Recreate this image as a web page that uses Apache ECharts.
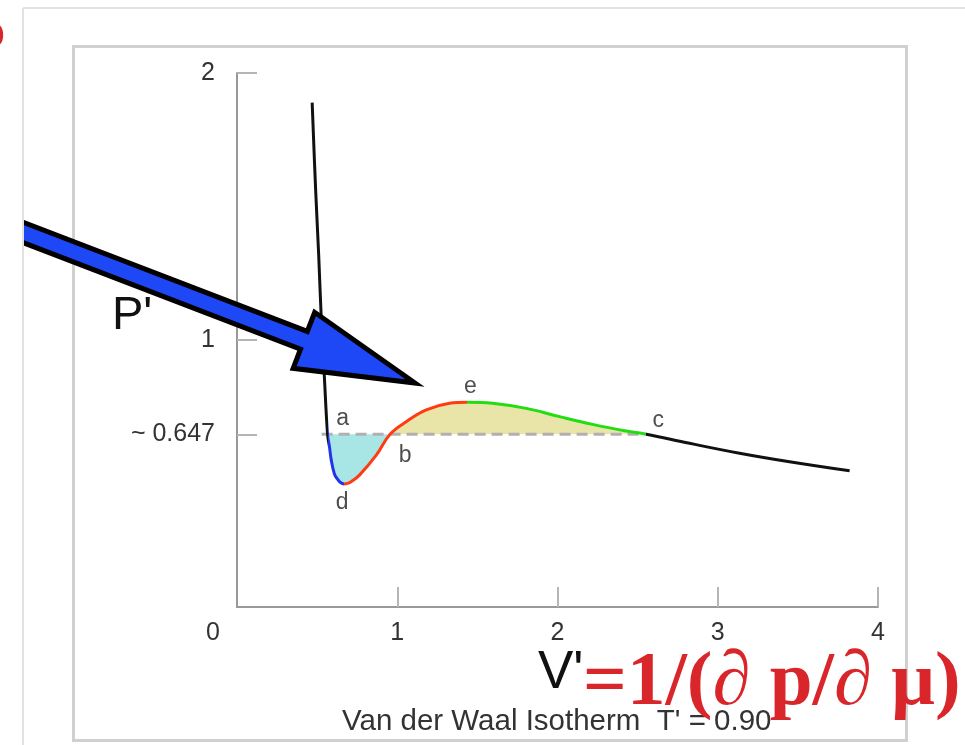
<!DOCTYPE html>
<html>
<head>
<meta charset="utf-8">
<title>Van der Waal Isotherm</title>
<script src="https://cdn.jsdelivr.net/npm/echarts@6/dist/echarts.min.js"></script>
<style>
  html, body { margin: 0; padding: 0; background: #ffffff; }
  #chart { width: 965px; height: 745px; }
</style>
</head>
<body>
<div id="chart"></div>
<script>
// Reduced van der Waals isotherm, T' = 0.90 (V' on x, P' on y)
const xTicks = [0, 1, 2, 3, 4];
const yTicks = [0.647, 1, 2];
const pSat = 0.647;                       // Maxwell construction pressure
const tieLineV = [0.528, 2.554];          // extent of the dashed tie line

// stable liquid branch (steep part, black)
const liquidV = [0.469, 0.491, 0.510, 0.527, 0.544, 0.565];
const liquidP = [1.889, 1.559, 1.315, 1.064, 0.876, 0.647];
// metastable liquid a -> d (blue)
const metaLiquidV = [0.565, 0.577, 0.588, 0.608, 0.627, 0.646, 0.668];
const metaLiquidP = [0.647, 0.600, 0.551, 0.498, 0.479, 0.466, 0.461];
// unstable region d -> e (red)
const unstableV = [0.668, 0.690, 0.714, 0.764, 0.869, 0.955, 1.056, 1.181, 1.326, 1.438];
const unstableP = [0.461, 0.463, 0.470, 0.494, 0.569, 0.647, 0.694, 0.738, 0.763, 0.767];
// metastable gas e -> c (green)
const metaGasV = [1.438, 1.594, 1.805, 2.013, 2.219, 2.429, 2.554];
const metaGasP = [0.767, 0.763, 0.744, 0.713, 0.684, 0.659, 0.647];
// stable gas branch (black)
const gasV = [2.554, 2.824, 3.136, 3.448, 3.823];
const gasP = [0.647, 0.613, 0.576, 0.544, 0.510];

// named points on the isotherm
const pointNames = ['a', 'b', 'c', 'd', 'e'];
const pointV = [0.565, 0.955, 2.554, 0.668, 1.438];
const pointP = [0.647, 0.647, 0.647, 0.461, 0.767];

const zip = (xs, ys) => xs.map((x, i) => [x, ys[i]]);
const [aV, bV, cV, dV, eV] = pointV;

// one continuous isotherm; colour changes at a, d, e, c
const isotherm = zip(liquidV, liquidP)
  .concat(zip(metaLiquidV, metaLiquidP).slice(1))
  .concat(zip(unstableV, unstableP).slice(1))
  .concat(zip(metaGasV, metaGasP).slice(1))
  .concat(zip(gasV, gasP).slice(1));

const lowerLobe = zip(metaLiquidV, metaLiquidP)
  .concat(zip(unstableV, unstableP).filter(p => p[0] > dV && p[0] <= bV));
const upperLobe = zip(unstableV, unstableP).filter(p => p[0] >= bV)
  .concat(zip(metaGasV, metaGasP).filter(p => p[0] > eV));

// label offsets (pixels) for the point letters
const letterOffsets = {
  a: [15, -16], b: [15, 21], c: [12, -14], d: [-2, 19], e: [3, -16]
};

const SANS = '"Liberation Sans", Arial, sans-serif';
const AXIS_GREY = '#999999';
const SMOOTH = 0.4;

function lobe(data, color) {
  return {
    type: 'line', data, smooth: SMOOTH, showSymbol: false, silent: true,
    lineStyle: { width: 0 },
    areaStyle: { color, opacity: 1, origin: pSat }, z: 2
  };
}

// arrow geometry (pointer annotation)
const tip = [415, 383];
const ux = 0.9335, uy = 0.3587;      // unit direction
const nx = -uy, ny = ux;             // normal
const headLen = 119, headHalf = 30, shaftHalf = 9.5;
const base = [tip[0] - headLen * ux, tip[1] - headLen * uy];
const tail = [base[0] - 340 * ux, base[1] - 340 * uy];
const arrowPts = [
  [tail[0] + shaftHalf * nx, tail[1] + shaftHalf * ny],
  [base[0] + shaftHalf * nx, base[1] + shaftHalf * ny],
  [base[0] + headHalf * nx, base[1] + headHalf * ny],
  tip,
  [base[0] - headHalf * nx, base[1] - headHalf * ny],
  [base[0] - shaftHalf * nx, base[1] - shaftHalf * ny],
  [tail[0] - shaftHalf * nx, tail[1] - shaftHalf * ny]
];

const chart = echarts.init(document.getElementById('chart'), null, { renderer: 'canvas' });

chart.setOption({
  animation: false,
  backgroundColor: '#ffffff',
  grid: { left: 237, right: 87, top: 73, bottom: 138, containLabel: false },
  xAxis: {
    type: 'value', min: xTicks[0], max: xTicks[xTicks.length - 1], interval: 1,
    axisLine: { show: true, onZero: false, lineStyle: { color: AXIS_GREY, width: 2 } },
    axisTick: { show: true, inside: true, length: 20, customValues: xTicks.slice(1),
      lineStyle: { color: '#b5b5b5', width: 2 } },
    axisLabel: {
      customValues: xTicks,
      margin: 14, color: '#333333', fontSize: 25, fontFamily: SANS,
      formatter: v => (v === 0 ? '{o|0}' : String(v)),
      rich: { o: { fontSize: 25, fontFamily: SANS, color: '#333333', padding: [0, 48, 0, 0] } }
    },
    splitLine: { show: false }
  },
  yAxis: {
    type: 'value', min: 0, max: 2, interval: 1,
    axisLine: { show: true, onZero: false, lineStyle: { color: AXIS_GREY, width: 2 } },
    axisTick: { show: true, inside: true, length: 20, customValues: yTicks,
      lineStyle: { color: '#b5b5b5', width: 2 } },
    axisLabel: {
      customValues: yTicks,
      margin: 22, color: '#333333', fontSize: 25, fontFamily: SANS,
      formatter: v => (Math.abs(v - pSat) < 1e-6 ? '~ 0.647' : String(v))
    },
    splitLine: { show: false }
  },
  title: {
    text: "Van der Waal Isotherm  T' = 0.90",
    left: 337, top: 702,
    textStyle: { fontFamily: SANS, fontSize: 29.5, fontWeight: 'normal', color: '#333333' }
  },
  visualMap: {
    type: 'piecewise', show: false, dimension: 0, seriesIndex: 3,
    pieces: [
      { lt: aV, color: '#111111' },
      { gte: aV, lt: dV, color: '#2233ee' },
      { gte: dV, lt: eV, color: '#ff3b12' },
      { gte: eV, lt: cV, color: '#22dd11' },
      { gte: cV, color: '#111111' }
    ]
  },
  series: [
    lobe(lowerLobe, '#a8e6e6'),
    lobe(upperLobe, '#e9e4a8'),
    {
      type: 'line', data: tieLineV.map(v => [v, pSat]), showSymbol: false, silent: true,
      lineStyle: { color: '#b0b0b0', width: 3, type: [11, 6] }, z: 3
    },
    {
      type: 'line', data: isotherm, smooth: SMOOTH, showSymbol: false, silent: true,
      lineStyle: { width: 3 }, z: 5
    },
    {
      type: 'scatter', symbolSize: 0, silent: true, z: 6,
      data: pointNames.map((n, i) => ({
        value: [pointV[i], pointP[i]],
        label: {
          show: true, position: 'inside', formatter: n,
          offset: letterOffsets[n],
          fontFamily: SANS, fontSize: 23, color: '#222222'
        }
      }))
    }
  ],
  graphic: [
    // outer page frame
    { type: 'line', z: 0, shape: { x1: 23, y1: 8, x2: 965, y2: 8 },
      style: { stroke: '#e2e2e2', lineWidth: 2 } },
    // inner figure frame
    { type: 'rect', z: 0, shape: { x: 73.5, y: 46.5, width: 833, height: 694 },
      style: { fill: null, stroke: '#d0d0d0', lineWidth: 3 } },
    // cut-off red glyph at the corner
    { type: 'text', z: 0, x: -26, y: 38,
      style: { text: 'O', font: 'bold 40px "Liberation Serif", serif', fill: '#d9262b',
        textVerticalAlign: 'middle', verticalAlign: 'middle' } },
    // axis names
    { type: 'text', z: 10, x: 112, y: 316,
      style: { text: "P'", font: '47px ' + SANS, fill: '#111111',
        textVerticalAlign: 'middle', verticalAlign: 'middle' } },
    { type: 'text', z: 10, x: 538, y: 673,
      style: { text: "V'", font: '53px ' + SANS, fill: '#111111',
        textVerticalAlign: 'middle', verticalAlign: 'middle' } },
    { type: 'text', z: 20, x: 583, y: 684,
      style: { text: '=1/(∂ p/∂ μ)', font: 'bold 77px "Liberation Serif", "DejaVu Serif", serif',
        fill: '#d9262b', textVerticalAlign: 'middle', verticalAlign: 'middle' } },
    // blue pointer arrow
    { type: 'polygon', z: 100, shape: { points: arrowPts },
      style: { fill: '#1e48f6', stroke: '#000000', lineWidth: 5, lineJoin: 'miter' } },
    { type: 'rect', z: 101, shape: { x: 0, y: 150, width: 23, height: 150 },
      style: { fill: '#ffffff' } },
    { type: 'line', z: 102, shape: { x1: 23, y1: 8, x2: 23, y2: 745 },
      style: { stroke: '#e2e2e2', lineWidth: 2 } }
  ]
});
</script>
</body>
</html>
